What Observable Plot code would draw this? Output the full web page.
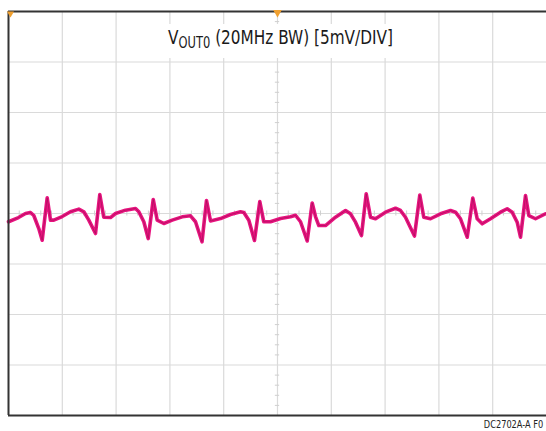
<!DOCTYPE html>
<html>
<head>
<meta charset="utf-8">
<script src="https://cdn.jsdelivr.net/npm/d3@7"></script>
<script src="https://cdn.jsdelivr.net/npm/@observablehq/plot@0.6"></script>
<style>
  html, body { margin: 0; padding: 0; background: #fff; }
  #wrap { position: relative; width: 546px; height: 431px; overflow: hidden; }
  #titlebox {
    position: absolute; left: 163px; top: 24px; width: 229px; height: 34px;
    background: #fff;
  }
  #title {
    position: absolute; left: -47px; top: -2px; width: 329px; text-align: center; line-height: 30px;
    font-family: "DejaVu Sans Condensed", "Liberation Sans Narrow", sans-serif;
    font-size: 20px; color: #1a1a1a; white-space: nowrap;
    transform: scaleX(0.85); transform-origin: 50% 0;
  }
  #title sub { font-size: 15px; vertical-align: -4px; line-height: 0; }
  #foot {
    position: absolute; right: 3px; top: 418px;
    font-family: "DejaVu Sans Condensed", "Liberation Sans Narrow", sans-serif;
    font-size: 10.5px; color: #222;
    transform: scaleX(0.87); transform-origin: 100% 0;
  }
</style>
</head>
<body>
<div id="wrap">
  <div id="chart"></div>
  <div id="titlebox"><div id="title">V<sub>OUT0</sub> (20MHz BW) [5mV/DIV]</div></div>
  <div id="foot">DC2702A-A F0</div>
</div>
<script>
// time in divisions (10 div across), voltage in mV (5 mV/div)
const timeDiv = [0.000,0.186,0.316,0.409,0.470,0.563,0.626,0.719,0.781,0.842,
  0.998,1.152,1.307,1.400,1.493,1.617,1.697,1.771,1.896,1.989,
  2.175,2.361,2.422,2.515,2.597,2.690,2.764,2.887,3.043,3.229,
  3.383,3.476,3.597,3.680,3.755,3.941,4.126,4.312,4.374,4.467,
  4.572,4.671,4.745,4.870,5.056,5.242,5.335,5.428,5.552,5.645,
  5.706,5.768,5.892,6.078,6.264,6.357,6.450,6.561,6.649,6.729,
  6.822,7.007,7.193,7.286,7.379,7.546,7.645,7.719,7.844,8.030,
  8.216,8.309,8.401,8.526,8.630,8.712,8.805,8.959,9.145,9.269,
  9.362,9.455,9.517,9.610,9.671,9.796,9.981];
const voutMv = [-0.82,-0.40,0.00,0.10,-0.20,-1.49,-2.64,1.55,-0.66,-0.66,
  -0.30,0.17,0.43,0.17,-0.66,-1.98,1.88,-0.37,-0.40,0.00,
  0.33,0.50,0.17,-0.82,-2.48,1.39,-0.66,-0.99,-0.66,-0.33,
  -0.23,-0.82,-2.80,1.29,-0.74,-0.50,-0.10,0.17,0.10,-0.66,
  -2.67,1.19,-0.82,-0.82,-0.50,-0.33,-0.17,-0.82,-2.72,1.04,
  -0.30,-1.19,-1.19,-0.37,0.30,-0.03,-0.86,-2.18,1.95,-0.37,
  -0.52,0.13,0.52,0.30,-0.37,-2.23,1.83,-0.37,-0.52,-0.03,
  0.30,0.13,-0.52,-2.35,1.53,-0.52,-1.02,-0.52,0.13,0.47,
  0.13,-0.86,-2.35,1.78,-0.20,-0.52,-0.03];

const xGrid = [1,2,3,4,5,6,7,8,9];
const yGrid = [-15,-10,-5,0,5,10,15];
const minorX = [0.2,0.4,0.6,0.8,1.2,1.4,1.6,1.8,2.2,2.4,2.6,2.8,3.2,3.4,3.6,3.8,4.2,4.4,4.6,4.8,
  5.2,5.4,5.6,5.8,6.2,6.4,6.6,6.8,7.2,7.4,7.6,7.8,8.2,8.4,8.6,8.8,9.2,9.4,9.6,9.8];
const minorY = [-19,-18,-17,-16,-14,-13,-12,-11,-9,-8,-7,-6,-4,-3,-2,-1,
  1,2,3,4,6,7,8,9,11,12,13,14,16,17,18,19];
const trigger = [{x: 5, y: 20}];
const corner = [{x: 0, y: 20}];

const data = timeDiv.map((t, i) => ({t, v: voutMv[i]}));

const chart = Plot.plot({
  width: 546, height: 431,
  marginLeft: 8, marginRight: 0, marginTop: 11, marginBottom: 16,
  x: {domain: [0, 10], axis: null},
  y: {domain: [-20, 20], axis: null},
  marks: [
    Plot.ruleX(xGrid, {stroke: "#dadada", strokeWidth: 1.2}),
    Plot.ruleY(yGrid, {stroke: "#dadada", strokeWidth: 1.2}),
    Plot.ruleX(minorX, {y1: -0.25, y2: 0.25, stroke: "#cfcfcf"}),
    Plot.ruleY(minorY, {x1: 4.96, x2: 5.04, stroke: "#cfcfcf"}),
    Plot.line(data, {x: "t", y: "v", stroke: "#e8137f", strokeWidth: 3.6, strokeLinejoin: "round"}),
    Plot.line(data, {x: "t", y: "v", stroke: "#7a1040", strokeWidth: 0.8, strokeOpacity: 0.5}),
    Plot.ruleX([0], {stroke: "#333", strokeWidth: 2}),
    Plot.ruleY([-20, 20], {stroke: "#333", strokeWidth: 2}),
    Plot.dot(trigger, {x: "x", y: "y", symbol: "triangle", rotate: 180, fill: "#f0a030", r: 3.2, dy: 1}),
    Plot.dot(corner, {x: "x", y: "y", symbol: "triangle", rotate: 180, fill: "#f0a030", r: 2.6, dx: 2, dy: 2})
  ]
});
document.getElementById("chart").appendChild(chart);
</script>
</body>
</html>
